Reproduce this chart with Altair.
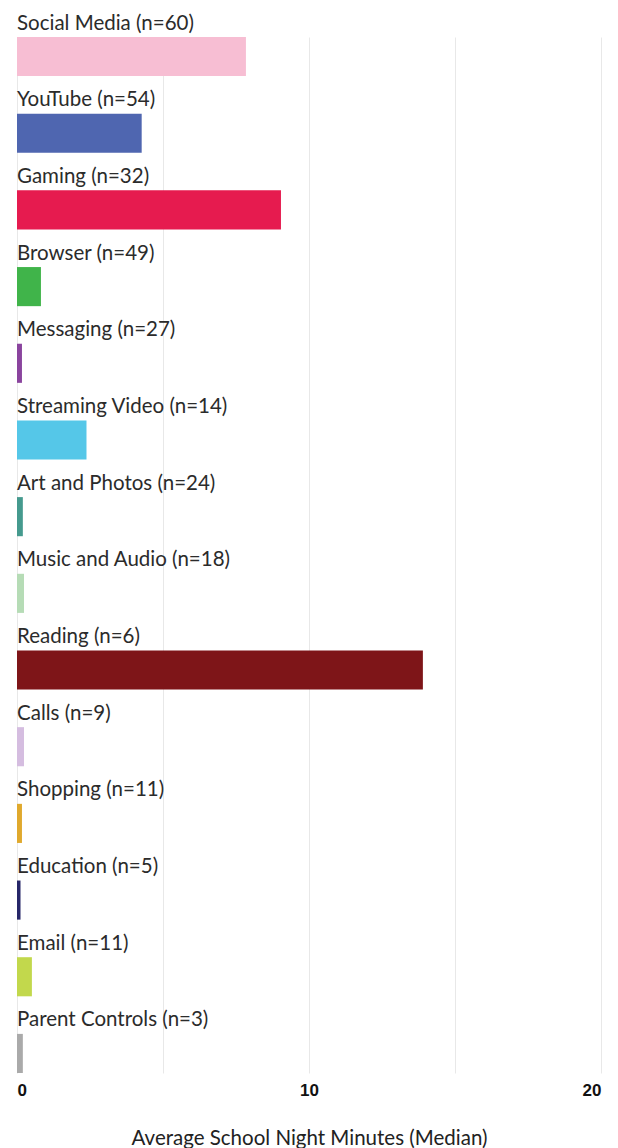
import altair as alt
import pandas as pd

categories = ["Social Media (n=60)", "YouTube (n=54)", "Gaming (n=32)", "Browser (n=49)",
              "Messaging (n=27)", "Streaming Video (n=14)", "Art and Photos (n=24)",
              "Music and Audio (n=18)", "Reading (n=6)", "Calls (n=9)", "Shopping (n=11)",
              "Education (n=5)", "Email (n=11)", "Parent Controls (n=3)"]
values = [7.84, 4.27, 9.04, 0.82, 0.17, 2.38, 0.2, 0.24, 13.9, 0.24, 0.17, 0.12, 0.51, 0.2]
colors = ["#f7bed3", "#4f66b0", "#e61b4f", "#40b44a", "#8a449e", "#55c7e8", "#459a8e",
          "#b6dcb6", "#7e1518", "#d5bde0", "#e0a92d", "#262668", "#c2d84c", "#aaaaaa"]
x_ticks = [0, 5, 10, 15, 20]

df = pd.DataFrame({"cat": categories, "val": values})

y_enc = alt.Y("cat:N", sort=categories, axis=None,
              scale=alt.Scale(paddingInner=0.49, paddingOuter=0))

bars = alt.Chart(df).mark_bar().encode(
    x=alt.X("val:Q", scale=alt.Scale(domain=[0, 20], nice=False),
            axis=alt.Axis(values=x_ticks, labelExpr="datum.value % 10 == 0 ? datum.label : ''",
                          title="Average School Night Minutes (Median)",
                          grid=True, gridColor="#e8e8e8", gridWidth=1,
                          ticks=False, domain=False,
                          labelFont="Liberation Sans", labelFontWeight="bold", labelFontSize=17,
                          labelColor="#111111", labelPadding=9,
                          titleFont="Lato", titleFontWeight="normal", titleFontSize=20.5,
                          titleColor="#222222", titlePadding=30)),
    y=y_enc,
    color=alt.Color("cat:N", sort=categories,
                    scale=alt.Scale(domain=categories, range=colors), legend=None),
)

labels = alt.Chart(df).mark_text(
    align="left", baseline="alphabetic", dy=-27, font="Lato", fontSize=20.5, color="#2b2b2b"
).encode(
    x=alt.value(0),
    y=y_enc,
    text="cat:N",
)

chart = (bars + labels).properties(
    width=584, height=1036,
    autosize=alt.AutoSizeParams(type="none"),
    padding={"left": 9, "top": 29, "right": 9, "bottom": 80},
).configure_view(stroke=None)

chart.save("out.html", embed_options={"renderer": "svg", "actions": False})
